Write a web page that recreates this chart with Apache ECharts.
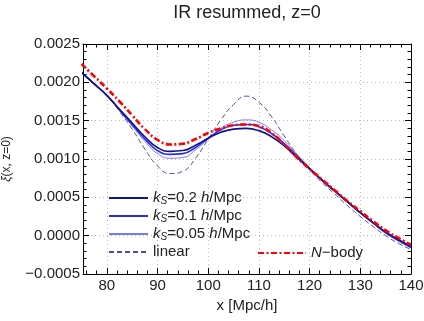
<!DOCTYPE html>
<html>
<head>
<meta charset="utf-8">
<script src="https://cdn.jsdelivr.net/npm/echarts@6/dist/echarts.min.js"></script>
<style>
  html, body { margin: 0; padding: 0; background: #fff; }
  #chart { width: 424px; height: 321px; }
</style>
</head>
<body>
<div id="chart"></div>
<script>
// separation x [Mpc/h]
const xs = [75, 77.5, 80, 82.5, 85, 87.5, 90, 92.5, 95, 97.5, 100, 102.5, 105, 107.5,
            110, 112.5, 115, 117.5, 120, 122.5, 125, 127.5, 130, 132.5, 135, 137.5, 140];

// xi(x, z=0) for each curve
const ks02 = [0.00213, 0.00198, 0.00183, 0.00165, 0.00147, 0.00129, 0.00115, 0.00110, 0.00111, 0.00118, 0.00127, 0.00135, 0.00139, 0.00140,
              0.00137, 0.00129, 0.00117, 0.00102, 0.00087, 0.00072, 0.00058, 0.00044, 0.00030, 0.00017, 0.00005, -0.00005, -0.00014];
const ks01 = [0.00213, 0.00198, 0.00183, 0.00164, 0.00145, 0.00126, 0.00111, 0.00106, 0.00107, 0.00115, 0.00127, 0.00138, 0.00144, 0.00145,
              0.00142, 0.00133, 0.00120, 0.00104, 0.00088, 0.00072, 0.00058, 0.00044, 0.00030, 0.00017, 0.00004, -0.00006, -0.00015];
const ks005 = [0.00213, 0.00198, 0.00183, 0.00163, 0.00143, 0.00123, 0.00107, 0.00101, 0.00102, 0.00112, 0.00126, 0.00140, 0.00148, 0.00151,
               0.00148, 0.00138, 0.00124, 0.00106, 0.00088, 0.00071, 0.00057, 0.00043, 0.00029, 0.00016, 0.00003, -0.00007, -0.00016];
const linear = [0.00213, 0.00199, 0.00183, 0.00162, 0.00139, 0.00113, 0.00091, 0.00081, 0.00084, 0.00101, 0.00126, 0.00151, 0.00171, 0.00182,
                0.00174, 0.00155, 0.00130, 0.00106, 0.00086, 0.00069, 0.00054, 0.00039, 0.00025, 0.00012, 0.00000, -0.00010, -0.00018];
const nbody = [0.00224, 0.00208, 0.00192, 0.00175, 0.00157, 0.00139, 0.00125, 0.00119, 0.00120, 0.00126, 0.00134, 0.00140, 0.00144, 0.00145,
               0.00143, 0.00134, 0.00119, 0.00102, 0.00087, 0.00073, 0.00059, 0.00045, 0.00032, 0.00019, 0.00007, -0.00003, -0.00012];

const xTicks = [80, 90, 100, 110, 120, 130, 140];
const xMinorTicks = [76, 78, 82, 84, 86, 88, 92, 94, 96, 98, 102, 104, 106, 108,
                     112, 114, 116, 118, 122, 124, 126, 128, 132, 134, 136, 138];

const font = 'Liberation Sans, Arial, sans-serif';
const xMin = 75.3, xMax = 140;

const pairs = ys => xs.map((x, i) => [x, ys[i]]);

const legendText = {
    'kS=0.2': '{i|k}{s|S}{n|=0.2 }{i|h}{n|/Mpc}',
    'kS=0.1': '{i|k}{s|S}{n|=0.1 }{i|h}{n|/Mpc}',
    'kS=0.05': '{i|k}{s|S}{n|=0.05 }{i|h}{n|/Mpc}',
    'linear': '{n|linear}',
    'N-body': '{i|N}{n|\u2212body}'
};
const legendRich = {
    n: { fontSize: 15, lineHeight: 18, color: '#222', fontFamily: font },
    i: { fontSize: 15, lineHeight: 18, color: '#222', fontStyle: 'italic', fontFamily: font },
    s: { fontSize: 10, lineHeight: 12, padding: [6, 0, 0, 0], color: '#222', fontStyle: 'italic', fontFamily: font }
};

const chart = echarts.init(document.getElementById('chart'));

const tickLine = { color: '#000', width: 1 };

function xAxisDef(pos, major, withLabels) {
    return {
        type: 'value', min: xMin, max: xMax, position: pos,
        axisLine: { show: major, onZero: false, lineStyle: tickLine },
        axisTick: { show: true, inside: true, length: major ? 6 : 3.5,
                    customValues: major ? xTicks : xMinorTicks, lineStyle: tickLine },
        axisLabel: withLabels
            ? { show: true, customValues: xTicks, fontSize: 15, color: '#222', fontFamily: font, margin: 4 }
            : { show: false },
        splitLine: withLabels
            ? { show: true, lineStyle: { type: [1, 3], color: '#bbb' } }
            : { show: false }
    };
}

const xAxes = [
    Object.assign(xAxisDef('bottom', true, true), {
        name: 'x [Mpc/h]', nameLocation: 'middle', nameGap: 16,
        nameTextStyle: { fontSize: 15, color: '#222', fontFamily: font }
    }),
    xAxisDef('bottom', false, false),
    xAxisDef('top', true, false),
    xAxisDef('top', false, false)
];

const yFmt = v => (v < -1e-9 ? '\u2212' : '') + Math.abs(v).toFixed(4);

const yAxes = [
    {
        type: 'value', min: -0.0005, max: 0.0025, interval: 0.0005, position: 'left',
        axisLine: { show: true, onZero: false, lineStyle: tickLine },
        axisTick: { inside: true, length: 6, lineStyle: tickLine },
        minorTick: { show: true, splitNumber: 5, length: 3.5, lineStyle: tickLine },
        axisLabel: { formatter: yFmt, fontSize: 15, color: '#222', fontFamily: font, margin: 3 },
        splitLine: { show: true, lineStyle: { type: [1, 3], color: '#bbb' } },
        name: '{i|\u03be}(x, z=0)', nameLocation: 'middle', nameGap: 70, nameRotate: 90,
        nameTextStyle: { fontSize: 12, color: '#222', fontFamily: font,
                         rich: { i: { fontSize: 12, fontStyle: 'italic', color: '#222', fontFamily: font } } }
    },
    {
        type: 'value', min: -0.0005, max: 0.0025, interval: 0.0005, position: 'right',
        axisLine: { show: true, onZero: false, lineStyle: tickLine },
        axisTick: { inside: true, length: 6, lineStyle: tickLine },
        minorTick: { show: true, splitNumber: 5, length: 3.5, lineStyle: tickLine },
        axisLabel: { show: false },
        splitLine: { show: false }
    }
];

function lineSeries(name, ys, color, width, type) {
    return {
        name: name, type: 'line', data: pairs(ys), smooth: 0.5,
        showSymbol: false, symbol: 'none', clip: true,
        lineStyle: { color: color, width: width, type: type || 'solid' },
        itemStyle: { color: color },
        animation: false
    };
}

const legendBase = {
    orient: 'vertical', padding: 0, itemHeight: 10, itemGap: 0, selectedMode: false,
    itemStyle: { opacity: 0 },
    formatter: n => legendText[n],
    textStyle: { fontSize: 15, lineHeight: 18, color: '#222', fontFamily: font, rich: legendRich }
};

const option = {
    backgroundColor: '#fff',
    animation: false,
    title: {
        text: 'IR resummed, z=0', left: 247, top: 4, padding: 0, textAlign: 'center',
        textStyle: { fontSize: 18, fontWeight: 'normal', color: '#222', fontFamily: font }
    },
    grid: { left: 83, right: 13, top: 44, bottom: 47, containLabel: false, outerBoundsMode: 'none' },
    xAxis: xAxes,
    yAxis: yAxes,
    legend: [
        Object.assign({}, legendBase, {
            data: ['kS=0.2', 'kS=0.1', 'kS=0.05', 'linear'],
            left: 108, top: 189, itemWidth: 39
        }),
        Object.assign({}, legendBase, {
            data: ['N-body'],
            left: 257, top: 244, itemWidth: 48
        })
    ],
    series: [
        lineSeries('linear', linear, '#4c4ca6', 1, [5, 3]),
        lineSeries('kS=0.05', ks005, '#7878ff', 1),
        lineSeries('kS=0.1', ks01, '#2a2aee', 1.6),
        lineSeries('kS=0.2', ks02, '#141480', 1.6),
        lineSeries('N-body', nbody, '#ff0000', 2.6, [6, 2.5, 2, 2.5])
    ]
};

chart.setOption(option);
</script>
</body>
</html>
